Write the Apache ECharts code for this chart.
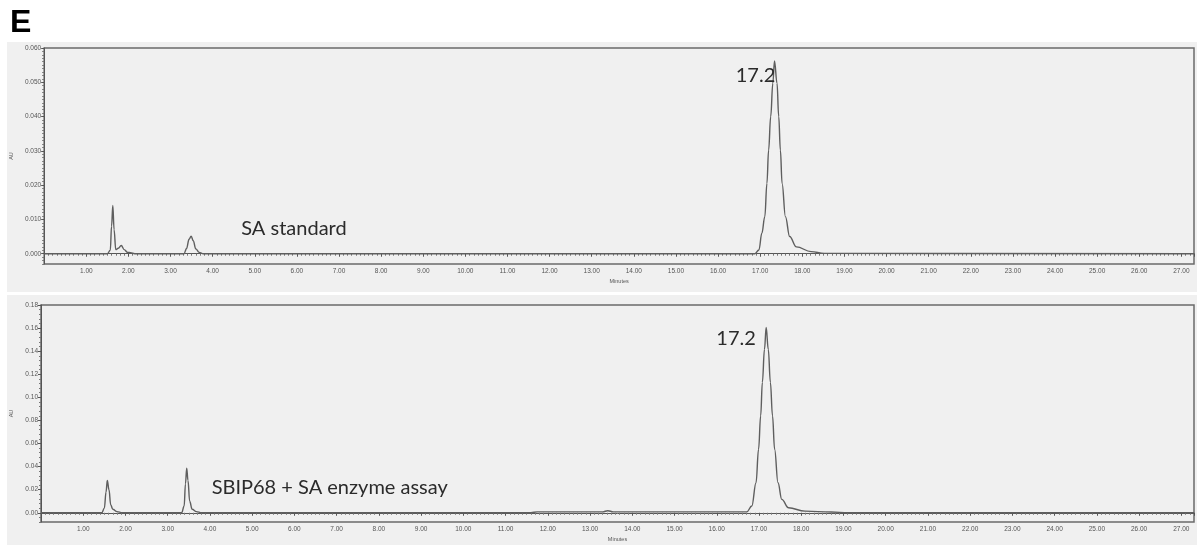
<!DOCTYPE html>
<html>
<head>
<meta charset="utf-8">
<script src="https://cdn.jsdelivr.net/npm/echarts/dist/echarts.min.js"></script>
<style>
html,body{margin:0;padding:0;background:#fff;}
#c{width:1197px;height:545px;}
</style>
</head>
<body>
<div id="c"></div>
<script>
// ---- Data ----
const panelLetter = 'E';
const xTickValues = [1,2,3,4,5,6,7,8,9,10,11,12,13,14,15,16,17,18,19,20,21,22,23,24,25,26,27];
const topYTicks = [0, 0.01, 0.02, 0.03, 0.04, 0.05, 0.06];
const bottomYTicks = [0, 0.02, 0.04, 0.06, 0.08, 0.10, 0.12, 0.14, 0.16, 0.18];

// SA standard trace (minutes, AU)
const topTimes  = [0, 1.50, 1.57, 1.60, 1.63, 1.66, 1.70, 1.76, 1.83, 1.90, 1.98, 2.05, 2.15,
                   3.32, 3.38, 3.44, 3.49, 3.54, 3.60, 3.68, 3.78,
                   16.87, 16.97, 17.04, 17.11, 17.16, 17.20, 17.25, 17.30, 17.34, 17.40, 17.44, 17.48, 17.52, 17.60, 17.70, 17.86, 18.21, 18.52, 27.3];
const topValues = [0, 0, 0.001, 0.008, 0.0141, 0.007, 0.0012, 0.0016, 0.0024, 0.0012, 0.0004, 0.0003, 0,
                   0, 0.0015, 0.0042, 0.0051, 0.0038, 0.0014, 0.0004, 0,
                   0, 0.0011, 0.006, 0.0108, 0.0205, 0.0302, 0.040, 0.0497, 0.0562, 0.0497, 0.040, 0.0302, 0.0205, 0.0108, 0.005, 0.002, 0.0006, 0.0001, 0];

// SBIP68 + SA enzyme assay trace (minutes, AU)
const bottomTimes  = [0, 1.44, 1.50, 1.54, 1.57, 1.61, 1.65, 1.70, 1.80, 1.92,
                      3.33, 3.39, 3.42, 3.45, 3.48, 3.52, 3.58, 3.68, 3.80,
                      11.60, 11.75, 13.30, 13.42, 13.55, 16.71,
                      16.83, 16.93, 16.99, 17.04, 17.08, 17.13, 17.17, 17.22, 17.27, 17.32, 17.37, 17.45, 17.54, 17.70, 18.09, 18.71, 19.11, 27.3];
const bottomValues = [0, 0, 0.004, 0.018, 0.028, 0.020, 0.007, 0.003, 0.001, 0,
                      0, 0.006, 0.025, 0.0386, 0.028, 0.010, 0.003, 0.001, 0,
                      0, 0.0008, 0.0008, 0.0018, 0.0008, 0.0008,
                      0.0058, 0.026, 0.055, 0.084, 0.113, 0.1416, 0.1605, 0.1416, 0.113, 0.084, 0.055, 0.026, 0.0116, 0.0043, 0.0014, 0.0006, 0, 0];

// Text annotations anchored in data space: [text, minutes, AU]
const topNotes    = [['17.2', 16.42, 0.052], ['SA standard', 4.68, 0.0073]];
const bottomNotes = [['17.2', 15.99, 0.1506], ['SBIP68 + SA enzyme assay', 4.04, 0.0221]];

// ---- Chart ----
const zip = (a, b) => a.map((t, i) => [t, b[i]]);
const axisCol = '#555';
const labCol = '#555';
const traceCol = '#5e5e5e';

function notesToMarks(notes) {
  return {
    symbol: 'circle', symbolSize: 0, silent: true,
    itemStyle: { color: 'rgba(0,0,0,0)' },
    label: {
      show: true, position: 'right', distance: 0,
      color: '#2b2b2b', fontFamily: 'Lato', fontSize: 20,
      formatter: p => p.name
    },
    data: notes.map(n => ({ name: n[0], coord: [n[1], n[2]] }))
  };
}

function xAxisFor(gi) {
  return {
    gridIndex: gi, type: 'value', position: 'bottom', min: 0, max: 27.3, interval: 1,
    axisLine: { show: true, lineStyle: { color: axisCol, width: 1 } },
    axisTick: { show: true, length: 3, lineStyle: { color: axisCol } },
    minorTick: { show: true, splitNumber: 10, length: 2, lineStyle: { color: '#777' } },
    splitLine: { show: false },
    axisLabel: {
      show: true, fontSize: 6.5, color: labCol, margin: 4, fontFamily: 'Liberation Sans',
      showMinLabel: true, showMaxLabel: true,
      formatter: v => (xTickValues.indexOf(Math.round(v * 1000) / 1000) >= 0 ? v.toFixed(2) : '')
    },
    name: 'Minutes', nameLocation: 'middle', nameGap: 14,
    nameTextStyle: { fontSize: 5.5, color: labCol, fontFamily: 'Liberation Sans' }
  };
}

function yMinorAxis(gi, min, max, step) {
  return {
    gridIndex: gi, type: 'value', position: 'left', min: min, max: max, interval: step,
    axisLine: { show: true, lineStyle: { color: axisCol, width: 1 } },
    axisTick: { show: true, length: 2, lineStyle: { color: '#777' } },
    axisLabel: { show: false }, splitLine: { show: false }
  };
}

function yMajorAxis(gi, min, max, ticks, digits, gap) {
  return {
    gridIndex: gi, type: 'value', position: 'left', min: min, max: max,
    axisLine: { show: false },
    axisTick: { show: true, length: 3, customValues: ticks, lineStyle: { color: axisCol } },
    axisLabel: {
      show: true, customValues: ticks, fontSize: 6.5, color: labCol, margin: 3,
      fontFamily: 'Liberation Sans', formatter: v => v.toFixed(digits)
    },
    splitLine: { show: false },
    name: 'AU', nameLocation: 'middle', nameRotate: 90, nameGap: gap,
    nameTextStyle: { fontSize: 5.5, color: labCol, fontFamily: 'Liberation Sans' }
  };
}

const chart = echarts.init(document.getElementById('c'), null, { renderer: 'canvas' });
chart.setOption({
  animation: false,
  backgroundColor: '#ffffff',
  graphic: [
    { type: 'rect', left: 7, top: 42, shape: { width: 1190, height: 250 }, style: { fill: '#f0f0f0' }, z: -10 },
    { type: 'rect', left: 7, top: 295, shape: { width: 1190, height: 250 }, style: { fill: '#f0f0f0' }, z: -10 },
    { type: 'text', left: 10, top: 7, style: { text: panelLetter, font: 'bold 32px "Liberation Sans", Arial', fill: '#000' } }
  ],
  grid: [
    { left: 40, top: 48, right: -3, height: 216, show: true, backgroundColor: '#f0f0f0', borderColor: '#6a6a6a', borderWidth: 1.5 },
    { left: 40, top: 305, right: -3, height: 217, show: true, backgroundColor: '#f0f0f0', borderColor: '#6a6a6a', borderWidth: 1.5 }
  ],
  xAxis: [xAxisFor(0), xAxisFor(1)],
  yAxis: [
    yMinorAxis(0, -0.003, 0.06, 0.001),
    yMajorAxis(0, -0.003, 0.06, topYTicks, 3, 27),
    yMinorAxis(1, -0.008, 0.18, 0.004),
    yMajorAxis(1, -0.008, 0.18, bottomYTicks, 2, 27)
  ],
  series: [
    {
      type: 'line', xAxisIndex: 0, yAxisIndex: 1, data: zip(topTimes, topValues),
      showSymbol: false, smooth: 0.4, smoothMonotone: 'x',
      lineStyle: { color: traceCol, width: 1.4 }, markPoint: notesToMarks(topNotes)
    },
    {
      type: 'line', xAxisIndex: 1, yAxisIndex: 3, data: zip(bottomTimes, bottomValues),
      showSymbol: false, smooth: 0.4, smoothMonotone: 'x',
      lineStyle: { color: traceCol, width: 1.4 }, markPoint: notesToMarks(bottomNotes)
    }
  ]
});
</script>
</body>
</html>
